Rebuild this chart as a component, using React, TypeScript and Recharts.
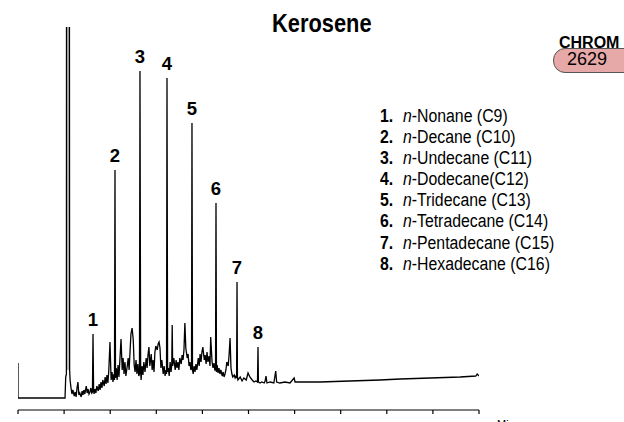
import React from "react"
import { Area, ComposedChart, Line, ReferenceDot, XAxis, YAxis } from "recharts"

// retention time (min), detector signal (arbitrary units)
const leadIn: [number, number][] = [
  [0, 47], [0, 12], [1.02, 12], [1.035, 33], [1.05, 36],
]

const solvent: [number, number][] = [[1.055, 900], [1.11, 900], [1.12, 40]]

const hydrocarbons: [number, number][] = [
  [1.13, 30], [1.15, 22], [1.17, 16], [1.19, 20], [1.22, 14], [1.24, 18], [1.26, 13], [1.28, 22],
  [1.3, 28], [1.32, 15], [1.34, 17], [1.37, 13], [1.39, 19], [1.41, 15], [1.43, 20], [1.45, 16],
  [1.48, 24], [1.5, 17], [1.52, 21], [1.54, 16], [1.56, 18], [1.58, 22], [1.6, 17], [1.615, 18],
  [1.627, 76], [1.64, 20], [1.65, 16], [1.67, 21], [1.69, 17], [1.71, 24], [1.74, 19], [1.76, 26],
  [1.78, 20], [1.8, 28], [1.82, 22], [1.84, 30], [1.87, 24], [1.89, 33], [1.91, 26], [1.93, 35],
  [1.95, 27], [1.97, 40], [1.995, 68], [2.02, 30], [2.04, 38], [2.06, 28], [2.08, 36], [2.093, 30],
  [2.104, 240], [2.115, 32], [2.13, 42], [2.15, 30], [2.17, 45], [2.19, 33], [2.21, 50], [2.235, 71],
  [2.26, 40], [2.28, 52], [2.3, 36], [2.32, 48], [2.34, 34], [2.37, 44], [2.39, 52], [2.41, 40],
  [2.43, 58], [2.45, 76], [2.475, 82], [2.5, 70], [2.52, 45], [2.54, 38], [2.56, 50], [2.58, 36],
  [2.6, 46], [2.62, 34], [2.635, 36], [2.646, 339], [2.66, 40], [2.67, 30], [2.69, 44], [2.71, 35],
  [2.73, 48], [2.755, 38], [2.78, 52], [2.8, 42], [2.82, 55], [2.84, 63], [2.86, 44], [2.89, 56],
  [2.91, 40], [2.93, 50], [2.95, 38], [2.97, 58], [2.99, 64], [3.02, 60], [3.04, 66], [3.06, 68],
  [3.08, 62], [3.1, 42], [3.12, 50], [3.15, 36], [3.17, 44], [3.19, 34], [3.21, 40], [3.222, 36],
  [3.232, 332], [3.245, 38], [3.26, 42], [3.28, 34], [3.3, 48], [3.32, 38], [3.335, 45], [3.345, 85],
  [3.355, 44], [3.38, 52], [3.41, 40], [3.43, 50], [3.45, 42], [3.47, 48], [3.49, 40], [3.51, 52],
  [3.54, 46], [3.56, 55], [3.58, 50], [3.6, 60], [3.62, 87], [3.64, 62], [3.67, 52], [3.69, 56],
  [3.71, 44], [3.73, 48], [3.75, 40], [3.764, 42], [3.774, 287], [3.785, 40], [3.8, 36], [3.82, 44],
  [3.84, 38], [3.86, 46], [3.88, 40], [3.91, 52], [3.93, 44], [3.95, 56], [3.97, 48], [3.99, 58],
  [4.01, 63], [4.04, 50], [4.06, 55], [4.08, 46], [4.1, 58], [4.12, 48], [4.145, 54], [4.165, 44],
  [4.18, 73], [4.21, 48], [4.23, 42], [4.25, 47], [4.27, 40], [4.285, 40], [4.295, 207], [4.305, 38],
  [4.32, 45], [4.34, 37], [4.36, 42], [4.38, 36], [4.4, 40], [4.43, 34], [4.45, 38], [4.47, 33],
  [4.49, 36], [4.51, 40], [4.53, 48], [4.56, 44], [4.58, 56], [4.6, 72], [4.62, 42], [4.64, 36],
  [4.66, 33], [4.69, 35], [4.71, 32], [4.73, 34], [4.742, 32], [4.751, 128], [4.76, 33], [4.77, 30],
  [4.82, 33], [4.86, 29], [4.9, 32], [4.95, 30], [4.99, 37], [5.03, 33], [5.08, 30], [5.12, 28],
  [5.16, 29], [5.195, 28], [5.206, 63], [5.215, 28], [5.25, 27], [5.29, 28], [5.34, 27], [5.36, 29],
  [5.38, 34], [5.4, 27], [5.47, 28], [5.55, 27], [5.59, 39], [5.61, 28], [5.68, 27], [5.79, 28],
  [5.9, 27], [5.99, 32], [6.01, 28], [6.12, 28],
]

const tail: [number, number][] = [
  [6.55, 28], [7.2, 29], [7.85, 30], [8.29, 31], [8.94, 32], [9.59, 33], [9.93, 34], [9.96, 36], [10, 34],
]

const peakNumbers = ["1", "2", "3", "4", "5", "6", "7", "8"]
const peakTimes = [1.627, 2.104, 2.646, 3.232, 3.774, 4.295, 4.751, 5.206]
const peakHeights = [76, 240, 339, 332, 287, 207, 128, 63]

const compounds = [
  "Nonane (C9)",
  "Decane (C10)",
  "Undecane (C11)",
  "Dodecane(C12)",
  "Tridecane (C13)",
  "Tetradecane (C14)",
  "Pentadecane (C15)",
  "Hexadecane (C16)",
]

const timeTicks = [0, 1, 2, 3, 4, 5, 6, 7, 8, 9, 10]

const trace = [...leadIn, ...solvent, ...hydrocarbons, ...tail].map(([t, v]) => ({ t, v }))
const solventBand = solvent.slice(0, 2).map(([t, v]) => ({ t, band: [40, v] }))

const sans = "'Liberation Sans', Arial, sans-serif"

export default function App() {
  return (
    <div style={{ position: "absolute", left: 0, top: 0, width: 624, height: 422, overflow: "hidden", background: "#fff" }}>
      <ComposedChart width={624} height={422} data={trace} margin={{ top: 27, right: 145, bottom: 0, left: 18 }}>
        <XAxis
          dataKey="t"
          type="number"
          domain={[0, 10]}
          ticks={timeTicks}
          allowDataOverflow
          height={12}
          tickSize={4}
          tickMargin={8}
          axisLine={{ stroke: "#000", strokeWidth: 1.2 }}
          tickLine={{ stroke: "#000", strokeWidth: 1.2 }}
          tick={{ fill: "#000", fontSize: 11, fontFamily: sans }}
        />
        <YAxis hide type="number" domain={[0, 383]} allowDataOverflow />
        <Area
          data={solventBand}
          dataKey="band"
          type="linear"
          stroke="none"
          fill="#bdbdbd"
          fillOpacity={1}
          isAnimationActive={false}
        />
        <Line
          dataKey="v"
          type="linear"
          stroke="#000"
          strokeWidth={1.3}
          dot={false}
          activeDot={false}
          isAnimationActive={false}
        />
        {peakNumbers.map((n, i) => (
          <ReferenceDot
            key={n}
            x={peakTimes[i]}
            y={peakHeights[i]}
            r={0}
            stroke="none"
            fill="none"
            label={{
              value: n,
              position: "top",
              offset: 8,
              fill: "#000",
              fontSize: 18.5,
              fontWeight: 700,
              fontFamily: sans,
            }}
          />
        ))}
      </ComposedChart>

      <div
        style={{
          position: "absolute",
          left: 272,
          top: 10,
          fontFamily: sans,
          fontWeight: 700,
          fontSize: 26,
          lineHeight: "26px",
          whiteSpace: "nowrap",
          transform: "scaleX(0.84)",
          transformOrigin: "left top",
        }}
      >
        Kerosene
      </div>

      <div
        style={{
          position: "absolute",
          left: 380,
          top: 106,
          fontFamily: sans,
          fontSize: 18,
          lineHeight: "21.1px",
          whiteSpace: "nowrap",
          transform: "scaleX(0.88)",
          transformOrigin: "left top",
        }}
      >
        {compounds.map((c, i) => (
          <div key={c}>
            <b style={{ display: "inline-block", width: 26 }}>{i + 1}.</b>
            <i>n</i>-{c}
          </div>
        ))}
      </div>

      <div
        style={{
          position: "absolute",
          left: 553,
          top: 48,
          width: 90,
          height: 23,
          borderRadius: 12,
          border: "1px solid #555",
          background: "#e6a9a7",
        }}
      />
      <div style={{ position: "absolute", left: 559, top: 36, fontFamily: sans, fontWeight: 700, fontSize: 16, lineHeight: "13px" }}>
        CHROM
      </div>
      <div style={{ position: "absolute", left: 567, top: 51, fontFamily: sans, fontSize: 18, lineHeight: "17px" }}>2629</div>

      <div style={{ position: "absolute", left: 497, top: 419, fontFamily: sans, fontSize: 11, lineHeight: "11px" }}>Min</div>
    </div>
  )
}
